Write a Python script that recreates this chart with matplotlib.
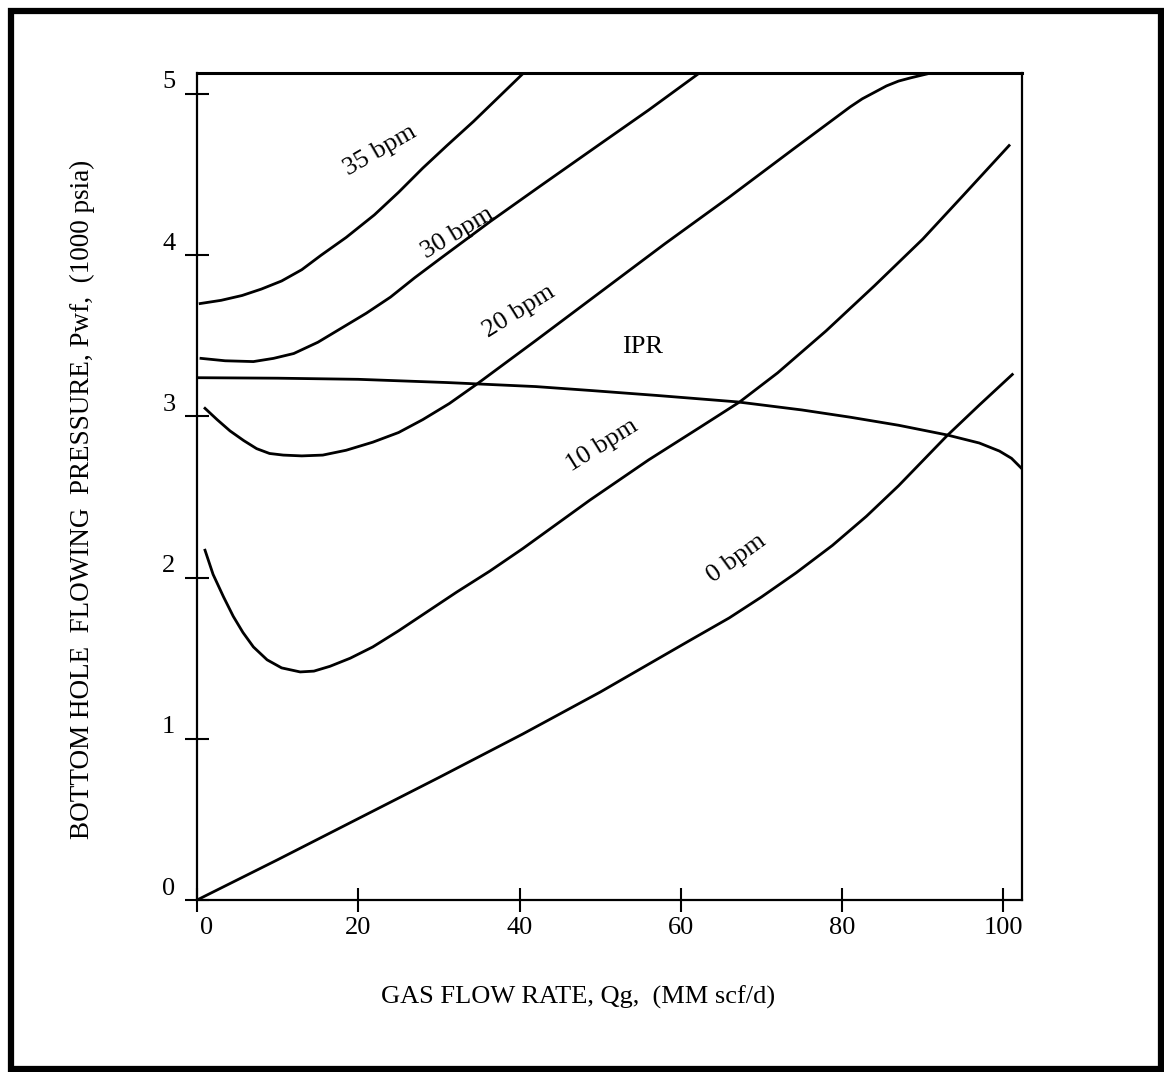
import matplotlib
matplotlib.use('Agg')
import matplotlib.pyplot as plt
from matplotlib.patches import Rectangle
from matplotlib.transforms import ScaledTranslation

plt.rcParams['font.family'] = ['Liberation Serif', 'DejaVu Serif']

# Gas flow rate (MM scf/d) and bottom hole pressure (1000 psia)
q_35 = [0.4, 3.0, 5.6, 8.0, 10.5, 13.0, 15.4, 18.5, 22.0, 25.0, 28.0, 31.0, 34.3, 40.5]
p_35 = [3.70, 3.72, 3.75, 3.79, 3.84, 3.91, 4.00, 4.11, 4.25, 4.39, 4.54, 4.68, 4.83, 5.13]

q_30 = [0.5, 3.5, 7.0, 9.5, 12.0, 15.0, 18.0, 21.0, 24.0, 27.0, 30.2, 36.4, 42.6, 50.0, 56.0, 62.3]
p_30 = [3.36, 3.345, 3.34, 3.36, 3.39, 3.46, 3.55, 3.64, 3.74, 3.86, 3.98, 4.21, 4.43, 4.69, 4.90, 5.13]

q_20 = [1.0, 2.5, 4.1, 5.8, 7.4, 9.0, 10.7, 13.0, 15.6, 18.5, 21.8, 25.0, 28.0, 31.3, 34.7,
        42.0, 50.0, 58.0, 66.0, 74.0, 81.0, 82.5, 84.0, 85.5, 87.0, 88.5, 91.0]
p_20 = [3.05, 2.98, 2.91, 2.85, 2.80, 2.77, 2.76, 2.755, 2.76, 2.79, 2.84, 2.90, 2.98, 3.08, 3.20,
        3.47, 3.77, 4.07, 4.36, 4.66, 4.92, 4.97, 5.01, 5.05, 5.08, 5.10, 5.13]

q_10 = [1.0, 2.0, 3.3, 4.5, 5.7, 7.0, 8.7, 10.5, 12.8, 14.5, 16.5, 19.0, 21.8, 25.0, 28.0, 32.2, 36.3, 40.4,
        48.7, 56.0, 62.3, 67.3, 72.0, 78.0, 84.0, 90.0, 95.0, 100.7]
p_10 = [2.17, 2.02, 1.88, 1.76, 1.66, 1.57, 1.49, 1.44, 1.415, 1.42, 1.45, 1.50, 1.57, 1.67, 1.77, 1.91, 2.04, 2.18,
        2.48, 2.73, 2.93, 3.09, 3.27, 3.53, 3.81, 4.10, 4.37, 4.68]

q_0 = [0.0, 10.0, 19.8, 30.0, 40.4, 50.0, 61.1, 66.0, 70.0, 74.3, 78.8, 83.0, 87.0, 93.0, 97.0, 101.1]
p_0 = [0.0, 0.25, 0.50, 0.76, 1.03, 1.29, 1.61, 1.75, 1.88, 2.03, 2.20, 2.38, 2.57, 2.88, 3.07, 3.26]

q_ipr = [0.0, 10.0, 20.0, 31.0, 42.0, 49.0, 57.0, 67.0, 75.0, 81.0, 87.0, 93.0, 97.0, 99.5, 101.0, 102.2]
p_ipr = [3.24, 3.237, 3.23, 3.21, 3.185, 3.16, 3.13, 3.09, 3.04, 2.995, 2.945, 2.885, 2.835, 2.785, 2.74, 2.68]

x_ticks = [0, 20, 40, 60, 80, 100]
y_ticks = [0, 1, 2, 3, 4, 5]

fig = plt.figure(figsize=(11.64, 10.72), dpi=100)
ax = fig.add_axes([0.1692, 0.1604, 0.7088, 0.7715])

for q, p in [(q_35, p_35), (q_30, p_30), (q_20, p_20), (q_10, p_10), (q_0, p_0), (q_ipr, p_ipr)]:
    ax.plot(q, p, color='black', lw=2.0)

ax.set_xlim(0, 102.3)
ax.set_ylim(0, 5.13)
ax.set_xticks(x_ticks)
ax.set_yticks(y_ticks)
ax.tick_params(direction='inout', length=17, width=1.5, labelsize=19, colors='black')
ax.tick_params(axis='y', pad=7)
ax.tick_params(axis='x', pad=4)
for sp in ax.spines.values():
    sp.set_linewidth(1.6)
ax.spines['top'].set_linewidth(2.2)

# y tick labels sit a bit above their ticks in the original
for lab in ax.get_yticklabels():
    lab.set_transform(lab.get_transform() + ScaledTranslation(0, 0.14, fig.dpi_scale_trans))
lab0 = ax.get_xticklabels()[0]
lab0.set_transform(lab0.get_transform() + ScaledTranslation(0.10, 0, fig.dpi_scale_trans))

ax.set_xlabel('GAS FLOW RATE, Qg,  (MM scf/d)', fontsize=19)
ax.xaxis.set_label_coords(0.462, -0.104)
ax.set_ylabel('BOTTOM HOLE  FLOWING  PRESSURE, Pwf,  (1000 psia)', fontsize=19.5)
ax.yaxis.set_label_coords(-0.139, 0.484)
ax.yaxis.label.set_verticalalignment('center')

# curve labels
ax.text(22.7, 4.65, '35 bpm', rotation=30, ha='center', va='center', fontsize=19, rotation_mode='anchor')
ax.text(32.3, 4.14, '30 bpm', rotation=31, ha='center', va='center', fontsize=19, rotation_mode='anchor')
ax.text(40.0, 3.65, '20 bpm', rotation=32, ha='center', va='center', fontsize=19, rotation_mode='anchor')
ax.text(55.3, 3.43, 'IPR', ha='center', va='center', fontsize=19)
ax.text(50.3, 2.82, '10 bpm', rotation=32, ha='center', va='center', fontsize=19, rotation_mode='anchor')
ax.text(66.9, 2.12, '0 bpm', rotation=36, ha='center', va='center', fontsize=19, rotation_mode='anchor')

# thick frame around the whole picture
fig.add_artist(Rectangle((11 / 1164, 3 / 1072), 1150 / 1164, 1058 / 1072, transform=fig.transFigure,
                         fill=False, edgecolor='black', lw=4.5))

fig.savefig('out.png', dpi=100)
